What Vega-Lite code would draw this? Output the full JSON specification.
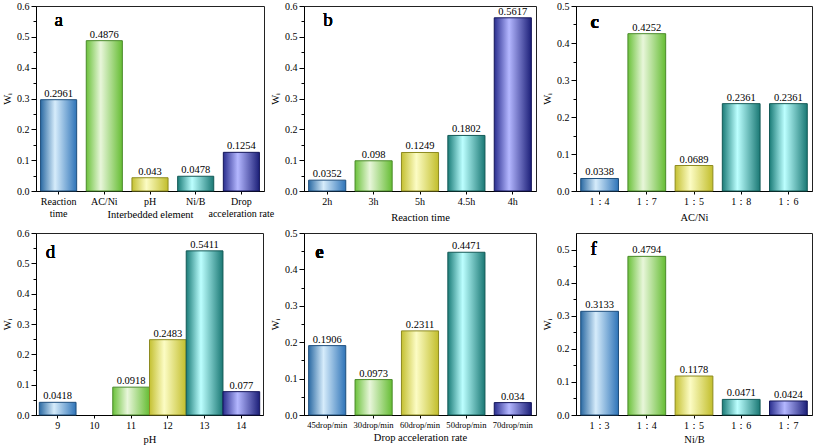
{
  "$schema": "https://vega.github.io/schema/vega-lite/v6.json",
  "padding": {"left": 2, "top": 0, "right": 0, "bottom": 0},
  "background": "white",
  "datasets": {
    "w": [
      {"p": "a", "c": "Reaction time", "v": 0.2961, "k": "1"},
      {"p": "a", "c": "AC/Ni", "v": 0.4876, "k": "2"},
      {"p": "a", "c": "pH", "v": 0.043, "k": "3"},
      {"p": "a", "c": "Ni/B", "v": 0.0478, "k": "4"},
      {"p": "a", "c": "Drop acceleration rate", "v": 0.1254, "k": "5"},
      {"p": "b", "c": "2h", "v": 0.0352, "k": "1"},
      {"p": "b", "c": "3h", "v": 0.098, "k": "2"},
      {"p": "b", "c": "5h", "v": 0.1249, "k": "3"},
      {"p": "b", "c": "4.5h", "v": 0.1802, "k": "4"},
      {"p": "b", "c": "4h", "v": 0.5617, "k": "5"},
      {"p": "c", "c": "1：4", "v": 0.0338, "k": "1"},
      {"p": "c", "c": "1：7", "v": 0.4252, "k": "2"},
      {"p": "c", "c": "1：5", "v": 0.0689, "k": "3"},
      {"p": "c", "c": "1：8", "v": 0.2361, "k": "4"},
      {"p": "c", "c": "1：6", "v": 0.2361, "k": "4"},
      {"p": "d", "c": "9", "v": 0.0418, "k": "1"},
      {"p": "d", "c": "11", "v": 0.0918, "k": "2"},
      {"p": "d", "c": "12", "v": 0.2483, "k": "3"},
      {"p": "d", "c": "13", "v": 0.5411, "k": "4"},
      {"p": "d", "c": "14", "v": 0.077, "k": "5"},
      {"p": "e", "c": "45drop/min", "v": 0.1906, "k": "1"},
      {"p": "e", "c": "30drop/min", "v": 0.0973, "k": "2"},
      {"p": "e", "c": "60drop/min", "v": 0.2311, "k": "3"},
      {"p": "e", "c": "50drop/min", "v": 0.4471, "k": "4"},
      {"p": "e", "c": "70drop/min", "v": 0.034, "k": "5"},
      {"p": "f", "c": "1：3", "v": 0.3133, "k": "1"},
      {"p": "f", "c": "1：4", "v": 0.4794, "k": "2"},
      {"p": "f", "c": "1：5", "v": 0.1178, "k": "3"},
      {"p": "f", "c": "1：6", "v": 0.0471, "k": "4"},
      {"p": "f", "c": "1：7", "v": 0.0424, "k": "5"}
    ]
  },
  "data": {"name": "w"},
  "bounds": "flush",
  "columns": 3,
  "spacing": {"row": 42, "column": 40},
  "concat": [
    {
      "width": 228, "height": 185,
      "transform": [{"filter": "datum.p == 'a'"}],
      "encoding": {
        "x": {"field": "c", "type": "nominal", "sort": null, "scale": {"paddingInner": 0.21, "paddingOuter": 0.1},
              "axis": {"title": "Interbedded element", "labelAngle": 0, "tickSize": 3, "titlePadding": -9,
                       "labelExpr": "datum.value == 'Reaction time' ? ['Reaction', 'time'] : datum.value == 'Drop acceleration rate' ? ['Drop', 'acceleration rate'] : datum.value"}},
        "y": {"field": "v", "type": "quantitative", "scale": {"domain": [0, 0.6], "nice": false},
              "axis": {"title": "Wᵢ", "values": [0, 0.1, 0.2, 0.3, 0.4, 0.5, 0.6], "format": ".1f", "tickSize": 5}}
      },
      "layer": [
        {"layer": [
          {"transform": [{"filter": "datum.k == '1'"}], "mark": {"type": "bar", "strokeWidth": 1, "stroke": "#1f4f7d", "color": {"gradient": "linear", "x1": 0, "y1": 0, "x2": 1, "y2": 0, "stops": [{"offset": 0, "color": "#2b6aa3"}, {"offset": 0.4, "color": "#d6ecfb"}, {"offset": 1, "color": "#2f74b8"}]}}},
          {"transform": [{"filter": "datum.k == '2'"}], "mark": {"type": "bar", "strokeWidth": 1, "stroke": "#4a8a2a", "color": {"gradient": "linear", "x1": 0, "y1": 0, "x2": 1, "y2": 0, "stops": [{"offset": 0, "color": "#6cc23c"}, {"offset": 0.4, "color": "#e8f6da"}, {"offset": 1, "color": "#66bd34"}]}}},
          {"transform": [{"filter": "datum.k == '3'"}], "mark": {"type": "bar", "strokeWidth": 1, "stroke": "#8e8b20", "color": {"gradient": "linear", "x1": 0, "y1": 0, "x2": 1, "y2": 0, "stops": [{"offset": 0, "color": "#c4c032"}, {"offset": 0.4, "color": "#fcfcc4"}, {"offset": 1, "color": "#c2be2c"}]}}},
          {"transform": [{"filter": "datum.k == '4'"}], "mark": {"type": "bar", "strokeWidth": 1, "stroke": "#145a57", "color": {"gradient": "linear", "x1": 0, "y1": 0, "x2": 1, "y2": 0, "stops": [{"offset": 0, "color": "#1b7c78"}, {"offset": 0.4, "color": "#bcffff"}, {"offset": 1, "color": "#1a7874"}]}}},
          {"transform": [{"filter": "datum.k == '5'"}], "mark": {"type": "bar", "strokeWidth": 1, "stroke": "#14165a", "color": {"gradient": "linear", "x1": 0, "y1": 0, "x2": 1, "y2": 0, "stops": [{"offset": 0, "color": "#2a2e8e"}, {"offset": 0.4, "color": "#b4b7ff"}, {"offset": 1, "color": "#1c1f78"}]}}},
          {"mark": {"type": "text", "text": "a", "fontSize": 19, "fontWeight": "normal", "align": "left", "baseline": "alphabetic", "dx": -4, "dy": 20, "color": "black"},
           "encoding": {"x": {"datum": "Reaction time", "type": "nominal"}, "y": {"datum": 0.6, "type": "quantitative"}}}
        ]},
        {"mark": {"type": "text", "dy": -6, "fontSize": 10.5, "color": "black"},
         "encoding": {
           "text": {"field": "v", "type": "quantitative"},
           "y": {"field": "v", "type": "quantitative", "scale": {"domain": [0, 0.6], "nice": false},
                 "axis": {"orient": "left", "title": null, "labels": false, "domain": false, "tickSize": 3, "values": [0.05, 0.15, 0.25, 0.35, 0.45, 0.55]}}
         }}
      ],
      "resolve": {"axis": {"y": "independent"}}
    },
    {
      "width": 232, "height": 185,
      "transform": [{"filter": "datum.p == 'b'"}],
      "encoding": {
        "x": {"field": "c", "type": "nominal", "sort": null, "scale": {"paddingInner": 0.2, "paddingOuter": 0.1},
              "axis": {"title": "Reaction time", "labelAngle": 0, "tickSize": 3, "titlePadding": 6}},
        "y": {"field": "v", "type": "quantitative", "scale": {"domain": [0, 0.6], "nice": false},
              "axis": {"title": "Wᵢ", "values": [0, 0.1, 0.2, 0.3, 0.4, 0.5, 0.6], "format": ".1f", "tickSize": 5}}
      },
      "layer": [
        {"layer": [
          {"transform": [{"filter": "datum.k == '1'"}], "mark": {"type": "bar", "strokeWidth": 1, "stroke": "#1f4f7d", "color": {"gradient": "linear", "x1": 0, "y1": 0, "x2": 1, "y2": 0, "stops": [{"offset": 0, "color": "#2b6aa3"}, {"offset": 0.4, "color": "#d6ecfb"}, {"offset": 1, "color": "#2f74b8"}]}}},
          {"transform": [{"filter": "datum.k == '2'"}], "mark": {"type": "bar", "strokeWidth": 1, "stroke": "#4a8a2a", "color": {"gradient": "linear", "x1": 0, "y1": 0, "x2": 1, "y2": 0, "stops": [{"offset": 0, "color": "#6cc23c"}, {"offset": 0.4, "color": "#e8f6da"}, {"offset": 1, "color": "#66bd34"}]}}},
          {"transform": [{"filter": "datum.k == '3'"}], "mark": {"type": "bar", "strokeWidth": 1, "stroke": "#8e8b20", "color": {"gradient": "linear", "x1": 0, "y1": 0, "x2": 1, "y2": 0, "stops": [{"offset": 0, "color": "#c4c032"}, {"offset": 0.4, "color": "#fcfcc4"}, {"offset": 1, "color": "#c2be2c"}]}}},
          {"transform": [{"filter": "datum.k == '4'"}], "mark": {"type": "bar", "strokeWidth": 1, "stroke": "#145a57", "color": {"gradient": "linear", "x1": 0, "y1": 0, "x2": 1, "y2": 0, "stops": [{"offset": 0, "color": "#1b7c78"}, {"offset": 0.4, "color": "#bcffff"}, {"offset": 1, "color": "#1a7874"}]}}},
          {"transform": [{"filter": "datum.k == '5'"}], "mark": {"type": "bar", "strokeWidth": 1, "stroke": "#14165a", "color": {"gradient": "linear", "x1": 0, "y1": 0, "x2": 1, "y2": 0, "stops": [{"offset": 0, "color": "#2a2e8e"}, {"offset": 0.4, "color": "#b4b7ff"}, {"offset": 1, "color": "#1c1f78"}]}}},
          {"mark": {"type": "text", "text": "b", "fontSize": 19, "fontWeight": "normal", "align": "left", "baseline": "alphabetic", "dx": -4, "dy": 20, "color": "black"},
           "encoding": {"x": {"datum": "2h", "type": "nominal"}, "y": {"datum": 0.6, "type": "quantitative"}}}
        ]},
        {"mark": {"type": "text", "dy": -6, "fontSize": 10.5, "color": "black"},
         "encoding": {
           "text": {"field": "v", "type": "quantitative"},
           "y": {"field": "v", "type": "quantitative", "scale": {"domain": [0, 0.6], "nice": false},
                 "axis": {"orient": "left", "title": null, "labels": false, "domain": false, "tickSize": 3, "values": [0.05, 0.15, 0.25, 0.35, 0.45, 0.55]}}
         }}
      ],
      "resolve": {"axis": {"y": "independent"}}
    },
    {
      "width": 236, "height": 185,
      "transform": [{"filter": "datum.p == 'c'"}],
      "encoding": {
        "x": {"field": "c", "type": "nominal", "sort": null, "scale": {"paddingInner": 0.2, "paddingOuter": 0.1},
              "axis": {"title": "AC/Ni", "labelAngle": 0, "tickSize": 3, "titlePadding": 6}},
        "y": {"field": "v", "type": "quantitative", "scale": {"domain": [0, 0.5], "nice": false},
              "axis": {"title": "Wᵢ", "values": [0, 0.1, 0.2, 0.3, 0.4, 0.5], "format": ".1f", "tickSize": 5}}
      },
      "layer": [
        {"layer": [
          {"transform": [{"filter": "datum.k == '1'"}], "mark": {"type": "bar", "strokeWidth": 1, "stroke": "#1f4f7d", "color": {"gradient": "linear", "x1": 0, "y1": 0, "x2": 1, "y2": 0, "stops": [{"offset": 0, "color": "#2b6aa3"}, {"offset": 0.4, "color": "#d6ecfb"}, {"offset": 1, "color": "#2f74b8"}]}}},
          {"transform": [{"filter": "datum.k == '2'"}], "mark": {"type": "bar", "strokeWidth": 1, "stroke": "#4a8a2a", "color": {"gradient": "linear", "x1": 0, "y1": 0, "x2": 1, "y2": 0, "stops": [{"offset": 0, "color": "#6cc23c"}, {"offset": 0.4, "color": "#e8f6da"}, {"offset": 1, "color": "#66bd34"}]}}},
          {"transform": [{"filter": "datum.k == '3'"}], "mark": {"type": "bar", "strokeWidth": 1, "stroke": "#8e8b20", "color": {"gradient": "linear", "x1": 0, "y1": 0, "x2": 1, "y2": 0, "stops": [{"offset": 0, "color": "#c4c032"}, {"offset": 0.4, "color": "#fcfcc4"}, {"offset": 1, "color": "#c2be2c"}]}}},
          {"transform": [{"filter": "datum.k == '4'"}], "mark": {"type": "bar", "strokeWidth": 1, "stroke": "#145a57", "color": {"gradient": "linear", "x1": 0, "y1": 0, "x2": 1, "y2": 0, "stops": [{"offset": 0, "color": "#1b7c78"}, {"offset": 0.4, "color": "#bcffff"}, {"offset": 1, "color": "#1a7874"}]}}},
          {"mark": {"type": "text", "text": "c", "fontSize": 19, "fontWeight": "bold", "align": "left", "baseline": "alphabetic", "dx": -9, "dy": 22, "color": "black"},
           "encoding": {"x": {"datum": "1：4", "type": "nominal"}, "y": {"datum": 0.5, "type": "quantitative"}}}
        ]},
        {"mark": {"type": "text", "dy": -6, "fontSize": 10.5, "color": "black"},
         "encoding": {
           "text": {"field": "v", "type": "quantitative"},
           "y": {"field": "v", "type": "quantitative", "scale": {"domain": [0, 0.5], "nice": false},
                 "axis": {"orient": "left", "title": null, "labels": false, "domain": false, "tickSize": 3, "values": [0.05, 0.15, 0.25, 0.35, 0.45]}}
         }}
      ],
      "resolve": {"axis": {"y": "independent"}}
    },
    {
      "width": 227, "height": 182,
      "transform": [{"filter": "datum.p == 'd'"}],
      "encoding": {
        "x": {"field": "c", "type": "nominal", "sort": null, "scale": {"domain": ["9", "10", "11", "12", "13", "14"], "paddingInner": 0, "paddingOuter": 0.09},
              "axis": {"title": "pH", "labelAngle": 0, "tickSize": 3, "titlePadding": 4}},
        "y": {"field": "v", "type": "quantitative", "scale": {"domain": [0, 0.6], "nice": false},
              "axis": {"title": "Wᵢ", "values": [0, 0.1, 0.2, 0.3, 0.4, 0.5, 0.6], "format": ".1f", "tickSize": 5}}
      },
      "layer": [
        {"layer": [
          {"transform": [{"filter": "datum.k == '1'"}], "mark": {"type": "bar", "strokeWidth": 1, "stroke": "#1f4f7d", "color": {"gradient": "linear", "x1": 0, "y1": 0, "x2": 1, "y2": 0, "stops": [{"offset": 0, "color": "#2b6aa3"}, {"offset": 0.4, "color": "#d6ecfb"}, {"offset": 1, "color": "#2f74b8"}]}}},
          {"transform": [{"filter": "datum.k == '2'"}], "mark": {"type": "bar", "strokeWidth": 1, "stroke": "#4a8a2a", "color": {"gradient": "linear", "x1": 0, "y1": 0, "x2": 1, "y2": 0, "stops": [{"offset": 0, "color": "#6cc23c"}, {"offset": 0.4, "color": "#e8f6da"}, {"offset": 1, "color": "#66bd34"}]}}},
          {"transform": [{"filter": "datum.k == '3'"}], "mark": {"type": "bar", "strokeWidth": 1, "stroke": "#8e8b20", "color": {"gradient": "linear", "x1": 0, "y1": 0, "x2": 1, "y2": 0, "stops": [{"offset": 0, "color": "#c4c032"}, {"offset": 0.4, "color": "#fcfcc4"}, {"offset": 1, "color": "#c2be2c"}]}}},
          {"transform": [{"filter": "datum.k == '4'"}], "mark": {"type": "bar", "strokeWidth": 1, "stroke": "#145a57", "color": {"gradient": "linear", "x1": 0, "y1": 0, "x2": 1, "y2": 0, "stops": [{"offset": 0, "color": "#1b7c78"}, {"offset": 0.4, "color": "#bcffff"}, {"offset": 1, "color": "#1a7874"}]}}},
          {"transform": [{"filter": "datum.k == '5'"}], "mark": {"type": "bar", "strokeWidth": 1, "stroke": "#14165a", "color": {"gradient": "linear", "x1": 0, "y1": 0, "x2": 1, "y2": 0, "stops": [{"offset": 0, "color": "#2a2e8e"}, {"offset": 0.4, "color": "#b4b7ff"}, {"offset": 1, "color": "#1c1f78"}]}}},
          {"mark": {"type": "text", "text": "d", "fontSize": 19, "fontWeight": "normal", "align": "left", "baseline": "alphabetic", "dx": -12, "dy": 25, "color": "black"},
           "encoding": {"x": {"datum": "9", "type": "nominal"}, "y": {"datum": 0.6, "type": "quantitative"}}}
        ]},
        {"mark": {"type": "text", "dy": -6, "fontSize": 10.5, "color": "black"},
         "encoding": {
           "text": {"field": "v", "type": "quantitative"},
           "y": {"field": "v", "type": "quantitative", "scale": {"domain": [0, 0.6], "nice": false},
                 "axis": {"orient": "left", "title": null, "labels": false, "domain": false, "tickSize": 3, "values": [0.05, 0.15, 0.25, 0.35, 0.45, 0.55]}}
         }}
      ],
      "resolve": {"axis": {"y": "independent"}}
    },
    {
      "width": 232, "height": 182,
      "transform": [{"filter": "datum.p == 'e'"}],
      "encoding": {
        "x": {"field": "c", "type": "nominal", "sort": null, "scale": {"paddingInner": 0.2, "paddingOuter": 0.1},
              "axis": {"title": "Drop acceleration rate", "labelAngle": 0, "tickSize": 3, "titlePadding": 4, "labelFontSize": 8.6}},
        "y": {"field": "v", "type": "quantitative", "scale": {"domain": [0, 0.5], "nice": false},
              "axis": {"title": "Wᵢ", "values": [0, 0.1, 0.2, 0.3, 0.4, 0.5], "format": ".1f", "tickSize": 5}}
      },
      "layer": [
        {"layer": [
          {"transform": [{"filter": "datum.k == '1'"}], "mark": {"type": "bar", "strokeWidth": 1, "stroke": "#1f4f7d", "color": {"gradient": "linear", "x1": 0, "y1": 0, "x2": 1, "y2": 0, "stops": [{"offset": 0, "color": "#2b6aa3"}, {"offset": 0.4, "color": "#d6ecfb"}, {"offset": 1, "color": "#2f74b8"}]}}},
          {"transform": [{"filter": "datum.k == '2'"}], "mark": {"type": "bar", "strokeWidth": 1, "stroke": "#4a8a2a", "color": {"gradient": "linear", "x1": 0, "y1": 0, "x2": 1, "y2": 0, "stops": [{"offset": 0, "color": "#6cc23c"}, {"offset": 0.4, "color": "#e8f6da"}, {"offset": 1, "color": "#66bd34"}]}}},
          {"transform": [{"filter": "datum.k == '3'"}], "mark": {"type": "bar", "strokeWidth": 1, "stroke": "#8e8b20", "color": {"gradient": "linear", "x1": 0, "y1": 0, "x2": 1, "y2": 0, "stops": [{"offset": 0, "color": "#c4c032"}, {"offset": 0.4, "color": "#fcfcc4"}, {"offset": 1, "color": "#c2be2c"}]}}},
          {"transform": [{"filter": "datum.k == '4'"}], "mark": {"type": "bar", "strokeWidth": 1, "stroke": "#145a57", "color": {"gradient": "linear", "x1": 0, "y1": 0, "x2": 1, "y2": 0, "stops": [{"offset": 0, "color": "#1b7c78"}, {"offset": 0.4, "color": "#bcffff"}, {"offset": 1, "color": "#1a7874"}]}}},
          {"transform": [{"filter": "datum.k == '5'"}], "mark": {"type": "bar", "strokeWidth": 1, "stroke": "#14165a", "color": {"gradient": "linear", "x1": 0, "y1": 0, "x2": 1, "y2": 0, "stops": [{"offset": 0, "color": "#2a2e8e"}, {"offset": 0.4, "color": "#b4b7ff"}, {"offset": 1, "color": "#1c1f78"}]}}},
          {"mark": {"type": "text", "text": "e", "fontSize": 19, "fontWeight": "bold", "align": "left", "baseline": "alphabetic", "dx": -12, "dy": 25, "color": "black"},
           "encoding": {"x": {"datum": "45drop/min", "type": "nominal"}, "y": {"datum": 0.5, "type": "quantitative"}}}
        ]},
        {"mark": {"type": "text", "dy": -6, "fontSize": 10.5, "color": "black"},
         "encoding": {
           "text": {"field": "v", "type": "quantitative"},
           "y": {"field": "v", "type": "quantitative", "scale": {"domain": [0, 0.5], "nice": false},
                 "axis": {"orient": "left", "title": null, "labels": false, "domain": false, "tickSize": 3, "values": [0.05, 0.15, 0.25, 0.35, 0.45]}}
         }}
      ],
      "resolve": {"axis": {"y": "independent"}}
    },
    {
      "width": 236, "height": 182,
      "transform": [{"filter": "datum.p == 'f'"}],
      "encoding": {
        "x": {"field": "c", "type": "nominal", "sort": null, "scale": {"paddingInner": 0.2, "paddingOuter": 0.1},
              "axis": {"title": "Ni/B", "labelAngle": 0, "tickSize": 3, "titlePadding": 4}},
        "y": {"field": "v", "type": "quantitative", "scale": {"domain": [0, 0.55], "nice": false},
              "axis": {"title": "Wᵢ", "values": [0, 0.1, 0.2, 0.3, 0.4, 0.5], "format": ".1f", "tickSize": 5}}
      },
      "layer": [
        {"layer": [
          {"transform": [{"filter": "datum.k == '1'"}], "mark": {"type": "bar", "strokeWidth": 1, "stroke": "#1f4f7d", "color": {"gradient": "linear", "x1": 0, "y1": 0, "x2": 1, "y2": 0, "stops": [{"offset": 0, "color": "#2b6aa3"}, {"offset": 0.4, "color": "#d6ecfb"}, {"offset": 1, "color": "#2f74b8"}]}}},
          {"transform": [{"filter": "datum.k == '2'"}], "mark": {"type": "bar", "strokeWidth": 1, "stroke": "#4a8a2a", "color": {"gradient": "linear", "x1": 0, "y1": 0, "x2": 1, "y2": 0, "stops": [{"offset": 0, "color": "#6cc23c"}, {"offset": 0.4, "color": "#e8f6da"}, {"offset": 1, "color": "#66bd34"}]}}},
          {"transform": [{"filter": "datum.k == '3'"}], "mark": {"type": "bar", "strokeWidth": 1, "stroke": "#8e8b20", "color": {"gradient": "linear", "x1": 0, "y1": 0, "x2": 1, "y2": 0, "stops": [{"offset": 0, "color": "#c4c032"}, {"offset": 0.4, "color": "#fcfcc4"}, {"offset": 1, "color": "#c2be2c"}]}}},
          {"transform": [{"filter": "datum.k == '4'"}], "mark": {"type": "bar", "strokeWidth": 1, "stroke": "#145a57", "color": {"gradient": "linear", "x1": 0, "y1": 0, "x2": 1, "y2": 0, "stops": [{"offset": 0, "color": "#1b7c78"}, {"offset": 0.4, "color": "#bcffff"}, {"offset": 1, "color": "#1a7874"}]}}},
          {"transform": [{"filter": "datum.k == '5'"}], "mark": {"type": "bar", "strokeWidth": 1, "stroke": "#14165a", "color": {"gradient": "linear", "x1": 0, "y1": 0, "x2": 1, "y2": 0, "stops": [{"offset": 0, "color": "#2a2e8e"}, {"offset": 0.4, "color": "#b4b7ff"}, {"offset": 1, "color": "#1c1f78"}]}}},
          {"mark": {"type": "text", "text": "f", "fontSize": 19, "fontWeight": "normal", "align": "left", "baseline": "alphabetic", "dx": -9, "dy": 22, "color": "black"},
           "encoding": {"x": {"datum": "1：3", "type": "nominal"}, "y": {"datum": 0.55, "type": "quantitative"}}}
        ]},
        {"mark": {"type": "text", "dy": -6, "fontSize": 10.5, "color": "black"},
         "encoding": {
           "text": {"field": "v", "type": "quantitative"},
           "y": {"field": "v", "type": "quantitative", "scale": {"domain": [0, 0.55], "nice": false},
                 "axis": {"orient": "left", "title": null, "labels": false, "domain": false, "tickSize": 3, "values": [0.05, 0.15, 0.25, 0.35, 0.45]}}
         }}
      ],
      "resolve": {"axis": {"y": "independent"}}
    }
  ],
  "config": {
    "font": "Liberation Serif",
    "view": {"stroke": "#222", "strokeWidth": 1},
    "axis": {"labelFont": "Liberation Serif", "titleFont": "Liberation Serif", "labelFontSize": 10, "titleFontSize": 10.5, "labelColor": "black", "titleColor": "black", "domainColor": "black", "tickColor": "black", "grid": false, "titleFontWeight": "normal", "labelPadding": 2},
    "title": {"font": "Liberation Serif", "fontWeight": "normal", "color": "black"},
    "text": {"font": "Liberation Serif"}
  }
}
